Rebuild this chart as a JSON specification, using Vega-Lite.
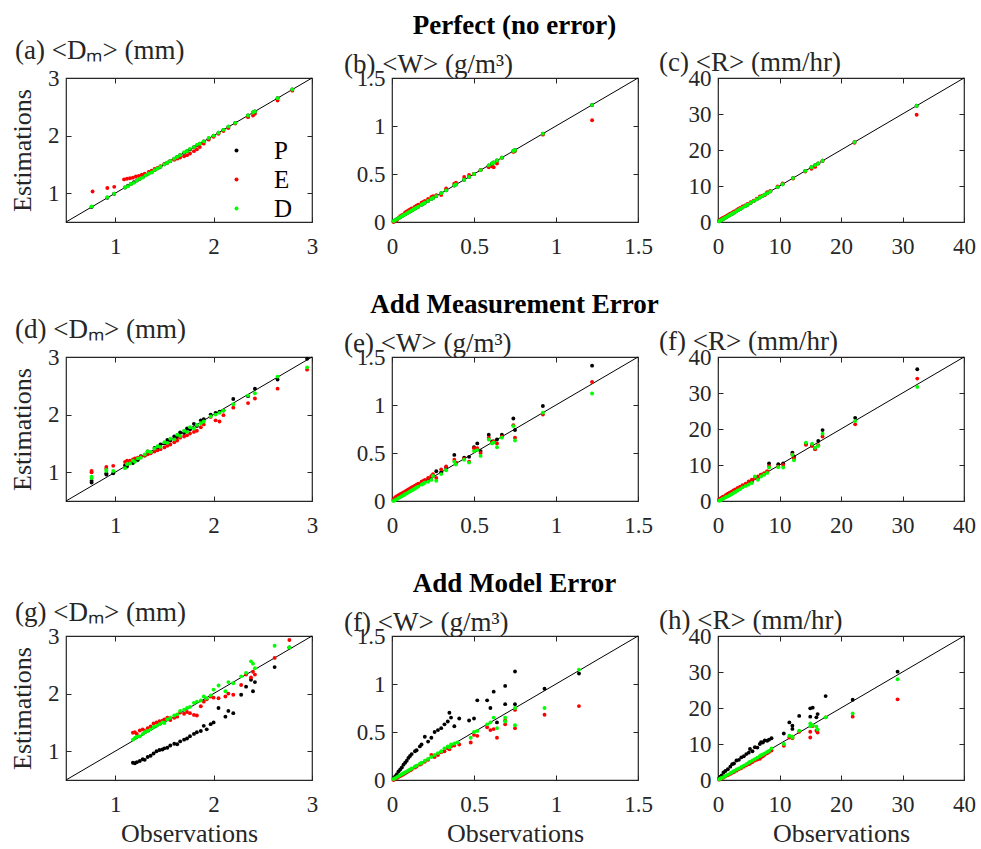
{
"$schema": "https://vega.github.io/schema/vega-lite/v6.json",
"background": "white",
"padding": {"left": 8, "top": 12, "right": 5, "bottom": 0},
"spacing": 32,
"resolve": {"scale": {"color": "independent"}},
"datasets": {
"a": [
{"s":"P","x":0.76,"y":0.76},{"s":"P","x":0.92,"y":0.92},{"s":"P","x":0.99,"y":0.99},{"s":"P","x":1.1,"y":1.1},{"s":"P","x":1.13,"y":1.13},{"s":"P","x":1.16,"y":1.16},{"s":"P","x":1.19,"y":1.19},{"s":"P","x":1.22,"y":1.22},{"s":"P","x":1.25,"y":1.25},{"s":"P","x":1.28,"y":1.28},{"s":"P","x":1.31,"y":1.31},{"s":"P","x":1.34,"y":1.34},{"s":"P","x":1.37,"y":1.37},{"s":"P","x":1.4,"y":1.4},{"s":"P","x":1.43,"y":1.43},{"s":"P","x":1.46,"y":1.46},{"s":"P","x":1.5,"y":1.5},{"s":"P","x":1.53,"y":1.53},{"s":"P","x":1.56,"y":1.56},{"s":"P","x":1.6,"y":1.6},{"s":"P","x":1.63,"y":1.63},{"s":"P","x":1.66,"y":1.66},{"s":"P","x":1.7,"y":1.7},{"s":"P","x":1.73,"y":1.73},{"s":"P","x":1.76,"y":1.76},{"s":"P","x":1.8,"y":1.8},{"s":"P","x":1.83,"y":1.83},{"s":"P","x":1.86,"y":1.86},{"s":"P","x":1.9,"y":1.9},{"s":"P","x":1.95,"y":1.95},{"s":"P","x":2.0,"y":2.0},{"s":"P","x":2.05,"y":2.05},{"s":"P","x":2.1,"y":2.1},{"s":"P","x":2.15,"y":2.15},{"s":"P","x":2.22,"y":2.22},{"s":"P","x":2.35,"y":2.35},{"s":"P","x":2.4,"y":2.4},{"s":"P","x":2.42,"y":2.42},{"s":"P","x":2.65,"y":2.65},{"s":"P","x":2.8,"y":2.8},
{"s":"E","x":0.77,"y":1.03},{"s":"E","x":0.92,"y":1.09},{"s":"E","x":0.99,"y":1.11},{"s":"E","x":1.09,"y":1.24},{"s":"E","x":1.12,"y":1.25},{"s":"E","x":1.15,"y":1.26},{"s":"E","x":1.18,"y":1.27},{"s":"E","x":1.21,"y":1.29},{"s":"E","x":1.24,"y":1.3},{"s":"E","x":1.27,"y":1.32},{"s":"E","x":1.3,"y":1.34},{"s":"E","x":1.34,"y":1.37},{"s":"E","x":1.37,"y":1.39},{"s":"E","x":1.4,"y":1.42},{"s":"E","x":1.43,"y":1.44},{"s":"E","x":1.46,"y":1.47},{"s":"E","x":1.5,"y":1.51},{"s":"E","x":1.53,"y":1.53},{"s":"E","x":1.56,"y":1.56},{"s":"E","x":1.6,"y":1.58},{"s":"E","x":1.63,"y":1.6},{"s":"E","x":1.66,"y":1.62},{"s":"E","x":1.7,"y":1.64},{"s":"E","x":1.73,"y":1.66},{"s":"E","x":1.76,"y":1.69},{"s":"E","x":1.8,"y":1.73},{"s":"E","x":1.83,"y":1.76},{"s":"E","x":1.86,"y":1.8},{"s":"E","x":1.9,"y":1.86},{"s":"E","x":1.95,"y":1.93},{"s":"E","x":2.0,"y":1.98},{"s":"E","x":2.05,"y":2.03},{"s":"E","x":2.1,"y":2.08},{"s":"E","x":2.15,"y":2.13},{"s":"E","x":2.22,"y":2.21},{"s":"E","x":2.35,"y":2.32},{"s":"E","x":2.4,"y":2.35},{"s":"E","x":2.42,"y":2.38},{"s":"E","x":2.65,"y":2.61},{"s":"E","x":2.8,"y":2.78},
{"s":"D","x":0.76,"y":0.77},{"s":"D","x":0.92,"y":0.93},{"s":"D","x":0.99,"y":0.99},{"s":"D","x":1.1,"y":1.1},{"s":"D","x":1.13,"y":1.12},{"s":"D","x":1.16,"y":1.16},{"s":"D","x":1.19,"y":1.18},{"s":"D","x":1.22,"y":1.22},{"s":"D","x":1.25,"y":1.25},{"s":"D","x":1.28,"y":1.27},{"s":"D","x":1.31,"y":1.31},{"s":"D","x":1.34,"y":1.34},{"s":"D","x":1.37,"y":1.36},{"s":"D","x":1.4,"y":1.4},{"s":"D","x":1.43,"y":1.43},{"s":"D","x":1.46,"y":1.46},{"s":"D","x":1.5,"y":1.5},{"s":"D","x":1.53,"y":1.53},{"s":"D","x":1.56,"y":1.56},{"s":"D","x":1.6,"y":1.6},{"s":"D","x":1.63,"y":1.63},{"s":"D","x":1.66,"y":1.66},{"s":"D","x":1.7,"y":1.71},{"s":"D","x":1.73,"y":1.73},{"s":"D","x":1.76,"y":1.77},{"s":"D","x":1.8,"y":1.8},{"s":"D","x":1.83,"y":1.84},{"s":"D","x":1.86,"y":1.86},{"s":"D","x":1.9,"y":1.9},{"s":"D","x":1.95,"y":1.96},{"s":"D","x":2.0,"y":2.0},{"s":"D","x":2.05,"y":2.05},{"s":"D","x":2.1,"y":2.1},{"s":"D","x":2.15,"y":2.16},{"s":"D","x":2.22,"y":2.22},{"s":"D","x":2.35,"y":2.35},{"s":"D","x":2.4,"y":2.4},{"s":"D","x":2.42,"y":2.42},{"s":"D","x":2.65,"y":2.65},{"s":"D","x":2.8,"y":2.8}
],
"b": [
{"s":"P","x":0.01,"y":0.01},{"s":"P","x":0.02,"y":0.02},{"s":"P","x":0.03,"y":0.03},{"s":"P","x":0.04,"y":0.04},{"s":"P","x":0.05,"y":0.05},{"s":"P","x":0.06,"y":0.06},{"s":"P","x":0.07,"y":0.07},{"s":"P","x":0.08,"y":0.08},{"s":"P","x":0.09,"y":0.09},{"s":"P","x":0.1,"y":0.1},{"s":"P","x":0.11,"y":0.11},{"s":"P","x":0.12,"y":0.12},{"s":"P","x":0.13,"y":0.13},{"s":"P","x":0.14,"y":0.14},{"s":"P","x":0.15,"y":0.15},{"s":"P","x":0.16,"y":0.16},{"s":"P","x":0.18,"y":0.18},{"s":"P","x":0.19,"y":0.19},{"s":"P","x":0.2,"y":0.2},{"s":"P","x":0.22,"y":0.22},{"s":"P","x":0.24,"y":0.24},{"s":"P","x":0.25,"y":0.25},{"s":"P","x":0.27,"y":0.27},{"s":"P","x":0.3,"y":0.3},{"s":"P","x":0.33,"y":0.33},{"s":"P","x":0.38,"y":0.38},{"s":"P","x":0.39,"y":0.39},{"s":"P","x":0.44,"y":0.44},{"s":"P","x":0.47,"y":0.47},{"s":"P","x":0.5,"y":0.5},{"s":"P","x":0.54,"y":0.54},{"s":"P","x":0.59,"y":0.59},{"s":"P","x":0.61,"y":0.61},{"s":"P","x":0.62,"y":0.62},{"s":"P","x":0.64,"y":0.64},{"s":"P","x":0.67,"y":0.67},{"s":"P","x":0.74,"y":0.74},{"s":"P","x":0.75,"y":0.75},{"s":"P","x":0.92,"y":0.92},{"s":"P","x":1.22,"y":1.22},
{"s":"E","x":0.01,"y":0.0},{"s":"E","x":0.02,"y":0.01},{"s":"E","x":0.03,"y":0.02},{"s":"E","x":0.04,"y":0.04},{"s":"E","x":0.05,"y":0.06},{"s":"E","x":0.06,"y":0.07},{"s":"E","x":0.07,"y":0.08},{"s":"E","x":0.08,"y":0.1},{"s":"E","x":0.09,"y":0.11},{"s":"E","x":0.1,"y":0.12},{"s":"E","x":0.11,"y":0.13},{"s":"E","x":0.12,"y":0.14},{"s":"E","x":0.13,"y":0.14},{"s":"E","x":0.14,"y":0.16},{"s":"E","x":0.15,"y":0.17},{"s":"E","x":0.16,"y":0.18},{"s":"E","x":0.18,"y":0.2},{"s":"E","x":0.19,"y":0.21},{"s":"E","x":0.2,"y":0.22},{"s":"E","x":0.22,"y":0.24},{"s":"E","x":0.24,"y":0.26},{"s":"E","x":0.25,"y":0.27},{"s":"E","x":0.27,"y":0.28},{"s":"E","x":0.3,"y":0.28},{"s":"E","x":0.33,"y":0.35},{"s":"E","x":0.38,"y":0.4},{"s":"E","x":0.39,"y":0.41},{"s":"E","x":0.44,"y":0.47},{"s":"E","x":0.47,"y":0.49},{"s":"E","x":0.5,"y":0.5},{"s":"E","x":0.54,"y":0.54},{"s":"E","x":0.59,"y":0.57},{"s":"E","x":0.61,"y":0.58},{"s":"E","x":0.62,"y":0.57},{"s":"E","x":0.64,"y":0.61},{"s":"E","x":0.67,"y":0.67},{"s":"E","x":0.74,"y":0.73},{"s":"E","x":0.75,"y":0.74},{"s":"E","x":0.92,"y":0.91},{"s":"E","x":1.22,"y":1.06},
{"s":"D","x":0.01,"y":0.01},{"s":"D","x":0.02,"y":0.02},{"s":"D","x":0.03,"y":0.03},{"s":"D","x":0.04,"y":0.04},{"s":"D","x":0.05,"y":0.05},{"s":"D","x":0.06,"y":0.06},{"s":"D","x":0.07,"y":0.07},{"s":"D","x":0.08,"y":0.08},{"s":"D","x":0.09,"y":0.09},{"s":"D","x":0.1,"y":0.1},{"s":"D","x":0.11,"y":0.11},{"s":"D","x":0.12,"y":0.12},{"s":"D","x":0.13,"y":0.13},{"s":"D","x":0.14,"y":0.14},{"s":"D","x":0.15,"y":0.15},{"s":"D","x":0.16,"y":0.16},{"s":"D","x":0.18,"y":0.18},{"s":"D","x":0.19,"y":0.19},{"s":"D","x":0.2,"y":0.2},{"s":"D","x":0.22,"y":0.22},{"s":"D","x":0.24,"y":0.24},{"s":"D","x":0.25,"y":0.25},{"s":"D","x":0.27,"y":0.27},{"s":"D","x":0.3,"y":0.3},{"s":"D","x":0.33,"y":0.33},{"s":"D","x":0.38,"y":0.38},{"s":"D","x":0.39,"y":0.39},{"s":"D","x":0.44,"y":0.44},{"s":"D","x":0.47,"y":0.47},{"s":"D","x":0.5,"y":0.5},{"s":"D","x":0.54,"y":0.54},{"s":"D","x":0.59,"y":0.59},{"s":"D","x":0.61,"y":0.61},{"s":"D","x":0.62,"y":0.62},{"s":"D","x":0.64,"y":0.64},{"s":"D","x":0.67,"y":0.67},{"s":"D","x":0.74,"y":0.74},{"s":"D","x":0.75,"y":0.75},{"s":"D","x":0.92,"y":0.92},{"s":"D","x":1.22,"y":1.22}
],
"c": [
{"s":"P","x":0.2,"y":0.2},{"s":"P","x":0.4,"y":0.4},{"s":"P","x":0.6,"y":0.6},{"s":"P","x":0.8,"y":0.8},{"s":"P","x":1.0,"y":1.0},{"s":"P","x":1.2,"y":1.2},{"s":"P","x":1.5,"y":1.5},{"s":"P","x":1.8,"y":1.8},{"s":"P","x":2.0,"y":2.0},{"s":"P","x":2.3,"y":2.3},{"s":"P","x":2.6,"y":2.6},{"s":"P","x":3.0,"y":3.0},{"s":"P","x":3.3,"y":3.3},{"s":"P","x":3.6,"y":3.6},{"s":"P","x":4.0,"y":4.0},{"s":"P","x":4.4,"y":4.4},{"s":"P","x":4.8,"y":4.8},{"s":"P","x":5.3,"y":5.3},{"s":"P","x":5.8,"y":5.8},{"s":"P","x":6.3,"y":6.3},{"s":"P","x":6.8,"y":6.8},{"s":"P","x":7.2,"y":7.2},{"s":"P","x":7.6,"y":7.6},{"s":"P","x":8.0,"y":8.0},{"s":"P","x":8.5,"y":8.5},{"s":"P","x":9.7,"y":9.7},{"s":"P","x":10.5,"y":10.5},{"s":"P","x":12.2,"y":12.2},{"s":"P","x":14.2,"y":14.2},{"s":"P","x":15.2,"y":15.2},{"s":"P","x":15.8,"y":15.8},{"s":"P","x":16.3,"y":16.3},{"s":"P","x":17.0,"y":17.0},{"s":"P","x":22.2,"y":22.2},{"s":"P","x":32.3,"y":32.3},
{"s":"E","x":0.2,"y":0.4},{"s":"E","x":0.4,"y":0.7},{"s":"E","x":0.6,"y":0.9},{"s":"E","x":0.8,"y":1.1},{"s":"E","x":1.0,"y":1.3},{"s":"E","x":1.2,"y":1.5},{"s":"E","x":1.5,"y":1.8},{"s":"E","x":1.8,"y":2.1},{"s":"E","x":2.0,"y":2.3},{"s":"E","x":2.3,"y":2.6},{"s":"E","x":2.6,"y":2.9},{"s":"E","x":3.0,"y":3.3},{"s":"E","x":3.3,"y":3.6},{"s":"E","x":3.6,"y":3.9},{"s":"E","x":4.0,"y":4.3},{"s":"E","x":4.4,"y":4.6},{"s":"E","x":4.8,"y":5.0},{"s":"E","x":5.3,"y":5.5},{"s":"E","x":5.8,"y":5.9},{"s":"E","x":6.3,"y":6.5},{"s":"E","x":6.8,"y":7.1},{"s":"E","x":7.2,"y":7.3},{"s":"E","x":7.6,"y":7.5},{"s":"E","x":8.0,"y":8.3},{"s":"E","x":8.5,"y":8.6},{"s":"E","x":9.7,"y":9.9},{"s":"E","x":10.5,"y":10.7},{"s":"E","x":12.2,"y":12.1},{"s":"E","x":14.2,"y":14.0},{"s":"E","x":15.2,"y":14.8},{"s":"E","x":15.8,"y":15.3},{"s":"E","x":16.3,"y":16.2},{"s":"E","x":17.0,"y":17.0},{"s":"E","x":22.2,"y":22.0},{"s":"E","x":32.3,"y":29.8},
{"s":"D","x":0.2,"y":0.2},{"s":"D","x":0.4,"y":0.4},{"s":"D","x":0.6,"y":0.6},{"s":"D","x":0.8,"y":0.8},{"s":"D","x":1.0,"y":1.0},{"s":"D","x":1.2,"y":1.2},{"s":"D","x":1.5,"y":1.5},{"s":"D","x":1.8,"y":1.8},{"s":"D","x":2.0,"y":2.0},{"s":"D","x":2.3,"y":2.3},{"s":"D","x":2.6,"y":2.6},{"s":"D","x":3.0,"y":3.0},{"s":"D","x":3.3,"y":3.3},{"s":"D","x":3.6,"y":3.6},{"s":"D","x":4.0,"y":4.0},{"s":"D","x":4.4,"y":4.4},{"s":"D","x":4.8,"y":4.8},{"s":"D","x":5.3,"y":5.3},{"s":"D","x":5.8,"y":5.8},{"s":"D","x":6.3,"y":6.3},{"s":"D","x":6.8,"y":6.8},{"s":"D","x":7.2,"y":7.2},{"s":"D","x":7.6,"y":7.6},{"s":"D","x":8.0,"y":8.0},{"s":"D","x":8.5,"y":8.5},{"s":"D","x":9.7,"y":9.7},{"s":"D","x":10.5,"y":10.5},{"s":"D","x":12.2,"y":12.2},{"s":"D","x":14.2,"y":14.2},{"s":"D","x":15.2,"y":15.2},{"s":"D","x":15.8,"y":15.8},{"s":"D","x":16.3,"y":16.3},{"s":"D","x":17.0,"y":17.0},{"s":"D","x":22.2,"y":22.2},{"s":"D","x":32.3,"y":32.3}
],
"d": [
{"s":"P","x":0.76,"y":0.82},{"s":"P","x":0.76,"y":0.85},{"s":"P","x":0.91,"y":0.96},{"s":"P","x":0.91,"y":0.98},{"s":"P","x":0.98,"y":0.98},{"s":"P","x":1.1,"y":1.12},{"s":"P","x":1.12,"y":1.1},{"s":"P","x":1.15,"y":1.17},{"s":"P","x":1.18,"y":1.16},{"s":"P","x":1.2,"y":1.22},{"s":"P","x":1.23,"y":1.21},{"s":"P","x":1.26,"y":1.28},{"s":"P","x":1.3,"y":1.29},{"s":"P","x":1.33,"y":1.36},{"s":"P","x":1.36,"y":1.34},{"s":"P","x":1.4,"y":1.42},{"s":"P","x":1.43,"y":1.41},{"s":"P","x":1.46,"y":1.48},{"s":"P","x":1.5,"y":1.5},{"s":"P","x":1.53,"y":1.56},{"s":"P","x":1.56,"y":1.55},{"s":"P","x":1.6,"y":1.62},{"s":"P","x":1.63,"y":1.61},{"s":"P","x":1.66,"y":1.69},{"s":"P","x":1.7,"y":1.68},{"s":"P","x":1.73,"y":1.76},{"s":"P","x":1.76,"y":1.74},{"s":"P","x":1.8,"y":1.84},{"s":"P","x":1.83,"y":1.8},{"s":"P","x":1.87,"y":1.9},{"s":"P","x":1.9,"y":1.92},{"s":"P","x":1.97,"y":2.0},{"s":"P","x":2.02,"y":2.03},{"s":"P","x":2.06,"y":2.05},{"s":"P","x":2.1,"y":2.07},{"s":"P","x":2.2,"y":2.27},{"s":"P","x":2.35,"y":2.32},{"s":"P","x":2.42,"y":2.45},{"s":"P","x":2.65,"y":2.61},{"s":"P","x":2.95,"y":2.97},
{"s":"E","x":0.76,"y":1.0},{"s":"E","x":0.76,"y":1.02},{"s":"E","x":0.91,"y":1.06},{"s":"E","x":0.91,"y":1.09},{"s":"E","x":0.98,"y":1.11},{"s":"E","x":1.1,"y":1.18},{"s":"E","x":1.12,"y":1.2},{"s":"E","x":1.15,"y":1.2},{"s":"E","x":1.18,"y":1.22},{"s":"E","x":1.2,"y":1.24},{"s":"E","x":1.23,"y":1.25},{"s":"E","x":1.26,"y":1.27},{"s":"E","x":1.3,"y":1.29},{"s":"E","x":1.33,"y":1.31},{"s":"E","x":1.36,"y":1.33},{"s":"E","x":1.4,"y":1.36},{"s":"E","x":1.43,"y":1.38},{"s":"E","x":1.46,"y":1.4},{"s":"E","x":1.5,"y":1.43},{"s":"E","x":1.53,"y":1.46},{"s":"E","x":1.56,"y":1.48},{"s":"E","x":1.6,"y":1.52},{"s":"E","x":1.63,"y":1.55},{"s":"E","x":1.66,"y":1.6},{"s":"E","x":1.7,"y":1.62},{"s":"E","x":1.73,"y":1.64},{"s":"E","x":1.76,"y":1.67},{"s":"E","x":1.8,"y":1.7},{"s":"E","x":1.83,"y":1.72},{"s":"E","x":1.87,"y":1.78},{"s":"E","x":1.9,"y":1.83},{"s":"E","x":1.97,"y":1.96},{"s":"E","x":2.02,"y":1.9},{"s":"E","x":2.06,"y":1.88},{"s":"E","x":2.1,"y":1.99},{"s":"E","x":2.2,"y":2.12},{"s":"E","x":2.35,"y":2.2},{"s":"E","x":2.42,"y":2.28},{"s":"E","x":2.65,"y":2.45},{"s":"E","x":2.95,"y":2.78},
{"s":"D","x":0.76,"y":0.9},{"s":"D","x":0.76,"y":0.92},{"s":"D","x":0.91,"y":1.02},{"s":"D","x":0.91,"y":1.04},{"s":"D","x":0.98,"y":1.02},{"s":"D","x":1.1,"y":1.07},{"s":"D","x":1.12,"y":1.14},{"s":"D","x":1.15,"y":1.15},{"s":"D","x":1.18,"y":1.2},{"s":"D","x":1.2,"y":1.18},{"s":"D","x":1.23,"y":1.24},{"s":"D","x":1.26,"y":1.25},{"s":"D","x":1.3,"y":1.31},{"s":"D","x":1.33,"y":1.36},{"s":"D","x":1.36,"y":1.35},{"s":"D","x":1.4,"y":1.41},{"s":"D","x":1.43,"y":1.45},{"s":"D","x":1.46,"y":1.44},{"s":"D","x":1.5,"y":1.52},{"s":"D","x":1.53,"y":1.51},{"s":"D","x":1.56,"y":1.58},{"s":"D","x":1.6,"y":1.57},{"s":"D","x":1.63,"y":1.65},{"s":"D","x":1.66,"y":1.63},{"s":"D","x":1.7,"y":1.72},{"s":"D","x":1.73,"y":1.7},{"s":"D","x":1.76,"y":1.78},{"s":"D","x":1.8,"y":1.76},{"s":"D","x":1.83,"y":1.82},{"s":"D","x":1.87,"y":1.85},{"s":"D","x":1.9,"y":1.88},{"s":"D","x":1.97,"y":1.97},{"s":"D","x":2.02,"y":2.0},{"s":"D","x":2.06,"y":2.03},{"s":"D","x":2.1,"y":2.07},{"s":"D","x":2.2,"y":2.18},{"s":"D","x":2.35,"y":2.33},{"s":"D","x":2.42,"y":2.37},{"s":"D","x":2.65,"y":2.66},{"s":"D","x":2.95,"y":2.82}
],
"e": [
{"s":"P","x":0.01,"y":0.01},{"s":"P","x":0.02,"y":0.02},{"s":"P","x":0.03,"y":0.03},{"s":"P","x":0.04,"y":0.05},{"s":"P","x":0.05,"y":0.05},{"s":"P","x":0.06,"y":0.06},{"s":"P","x":0.07,"y":0.08},{"s":"P","x":0.08,"y":0.08},{"s":"P","x":0.09,"y":0.1},{"s":"P","x":0.1,"y":0.1},{"s":"P","x":0.11,"y":0.11},{"s":"P","x":0.12,"y":0.13},{"s":"P","x":0.13,"y":0.13},{"s":"P","x":0.14,"y":0.14},{"s":"P","x":0.15,"y":0.16},{"s":"P","x":0.16,"y":0.16},{"s":"P","x":0.18,"y":0.19},{"s":"P","x":0.19,"y":0.19},{"s":"P","x":0.2,"y":0.21},{"s":"P","x":0.22,"y":0.22},{"s":"P","x":0.24,"y":0.25},{"s":"P","x":0.25,"y":0.26},{"s":"P","x":0.27,"y":0.31},{"s":"P","x":0.3,"y":0.3},{"s":"P","x":0.33,"y":0.35},{"s":"P","x":0.38,"y":0.48},{"s":"P","x":0.39,"y":0.4},{"s":"P","x":0.44,"y":0.45},{"s":"P","x":0.47,"y":0.46},{"s":"P","x":0.5,"y":0.56},{"s":"P","x":0.52,"y":0.6},{"s":"P","x":0.54,"y":0.52},{"s":"P","x":0.59,"y":0.69},{"s":"P","x":0.61,"y":0.62},{"s":"P","x":0.62,"y":0.62},{"s":"P","x":0.64,"y":0.64},{"s":"P","x":0.67,"y":0.69},{"s":"P","x":0.74,"y":0.86},{"s":"P","x":0.75,"y":0.74},{"s":"P","x":0.92,"y":0.99},{"s":"P","x":1.22,"y":1.41},
{"s":"E","x":0.01,"y":0.02},{"s":"E","x":0.02,"y":0.04},{"s":"E","x":0.03,"y":0.05},{"s":"E","x":0.04,"y":0.06},{"s":"E","x":0.05,"y":0.07},{"s":"E","x":0.06,"y":0.08},{"s":"E","x":0.07,"y":0.09},{"s":"E","x":0.08,"y":0.1},{"s":"E","x":0.09,"y":0.11},{"s":"E","x":0.1,"y":0.12},{"s":"E","x":0.11,"y":0.13},{"s":"E","x":0.12,"y":0.14},{"s":"E","x":0.13,"y":0.15},{"s":"E","x":0.14,"y":0.16},{"s":"E","x":0.15,"y":0.17},{"s":"E","x":0.16,"y":0.18},{"s":"E","x":0.18,"y":0.2},{"s":"E","x":0.19,"y":0.21},{"s":"E","x":0.2,"y":0.22},{"s":"E","x":0.22,"y":0.24},{"s":"E","x":0.24,"y":0.26},{"s":"E","x":0.25,"y":0.28},{"s":"E","x":0.27,"y":0.24},{"s":"E","x":0.3,"y":0.33},{"s":"E","x":0.33,"y":0.36},{"s":"E","x":0.38,"y":0.43},{"s":"E","x":0.39,"y":0.4},{"s":"E","x":0.44,"y":0.44},{"s":"E","x":0.47,"y":0.41},{"s":"E","x":0.5,"y":0.55},{"s":"E","x":0.52,"y":0.55},{"s":"E","x":0.54,"y":0.5},{"s":"E","x":0.59,"y":0.66},{"s":"E","x":0.61,"y":0.61},{"s":"E","x":0.62,"y":0.62},{"s":"E","x":0.64,"y":0.6},{"s":"E","x":0.67,"y":0.67},{"s":"E","x":0.74,"y":0.79},{"s":"E","x":0.75,"y":0.66},{"s":"E","x":0.92,"y":0.9},{"s":"E","x":1.22,"y":1.24},
{"s":"D","x":0.01,"y":0.0},{"s":"D","x":0.02,"y":0.01},{"s":"D","x":0.03,"y":0.02},{"s":"D","x":0.04,"y":0.03},{"s":"D","x":0.05,"y":0.04},{"s":"D","x":0.06,"y":0.05},{"s":"D","x":0.07,"y":0.06},{"s":"D","x":0.08,"y":0.07},{"s":"D","x":0.09,"y":0.08},{"s":"D","x":0.1,"y":0.09},{"s":"D","x":0.11,"y":0.1},{"s":"D","x":0.12,"y":0.11},{"s":"D","x":0.13,"y":0.12},{"s":"D","x":0.14,"y":0.13},{"s":"D","x":0.15,"y":0.14},{"s":"D","x":0.16,"y":0.15},{"s":"D","x":0.18,"y":0.17},{"s":"D","x":0.19,"y":0.18},{"s":"D","x":0.2,"y":0.19},{"s":"D","x":0.22,"y":0.2},{"s":"D","x":0.24,"y":0.22},{"s":"D","x":0.25,"y":0.26},{"s":"D","x":0.27,"y":0.21},{"s":"D","x":0.3,"y":0.28},{"s":"D","x":0.33,"y":0.32},{"s":"D","x":0.38,"y":0.41},{"s":"D","x":0.39,"y":0.38},{"s":"D","x":0.44,"y":0.43},{"s":"D","x":0.47,"y":0.4},{"s":"D","x":0.5,"y":0.52},{"s":"D","x":0.52,"y":0.53},{"s":"D","x":0.54,"y":0.47},{"s":"D","x":0.59,"y":0.64},{"s":"D","x":0.61,"y":0.6},{"s":"D","x":0.62,"y":0.61},{"s":"D","x":0.64,"y":0.56},{"s":"D","x":0.67,"y":0.66},{"s":"D","x":0.74,"y":0.78},{"s":"D","x":0.75,"y":0.63},{"s":"D","x":0.92,"y":0.92},{"s":"D","x":1.22,"y":1.12}
],
"f": [
{"s":"P","x":0.2,"y":0.2},{"s":"P","x":0.4,"y":0.5},{"s":"P","x":0.6,"y":0.6},{"s":"P","x":0.8,"y":0.9},{"s":"P","x":1.0,"y":1.0},{"s":"P","x":1.3,"y":1.4},{"s":"P","x":1.6,"y":1.6},{"s":"P","x":1.9,"y":2.0},{"s":"P","x":2.2,"y":2.2},{"s":"P","x":2.5,"y":2.6},{"s":"P","x":2.8,"y":2.8},{"s":"P","x":3.2,"y":3.3},{"s":"P","x":3.6,"y":3.6},{"s":"P","x":4.0,"y":4.2},{"s":"P","x":4.5,"y":4.5},{"s":"P","x":5.0,"y":5.2},{"s":"P","x":5.5,"y":5.4},{"s":"P","x":6.0,"y":6.3},{"s":"P","x":6.5,"y":6.4},{"s":"P","x":7.0,"y":7.3},{"s":"P","x":7.5,"y":7.5},{"s":"P","x":8.0,"y":8.1},{"s":"P","x":8.3,"y":10.4},{"s":"P","x":9.8,"y":10.2},{"s":"P","x":10.6,"y":10.4},{"s":"P","x":12.1,"y":13.4},{"s":"P","x":12.35,"y":12.3},{"s":"P","x":14.3,"y":15.8},{"s":"P","x":15.3,"y":15.4},{"s":"P","x":15.8,"y":14.5},{"s":"P","x":16.3,"y":16.7},{"s":"P","x":17.0,"y":19.7},{"s":"P","x":22.3,"y":23.1},{"s":"P","x":32.4,"y":36.6},
{"s":"E","x":0.2,"y":0.4},{"s":"E","x":0.4,"y":0.7},{"s":"E","x":0.6,"y":0.9},{"s":"E","x":0.8,"y":1.2},{"s":"E","x":1.0,"y":1.3},{"s":"E","x":1.3,"y":1.7},{"s":"E","x":1.6,"y":2.0},{"s":"E","x":1.9,"y":2.3},{"s":"E","x":2.2,"y":2.6},{"s":"E","x":2.5,"y":2.9},{"s":"E","x":2.8,"y":3.2},{"s":"E","x":3.2,"y":3.6},{"s":"E","x":3.6,"y":4.0},{"s":"E","x":4.0,"y":4.4},{"s":"E","x":4.5,"y":4.8},{"s":"E","x":5.0,"y":5.4},{"s":"E","x":5.5,"y":5.9},{"s":"E","x":6.0,"y":6.3},{"s":"E","x":6.5,"y":6.8},{"s":"E","x":7.0,"y":7.3},{"s":"E","x":7.5,"y":7.7},{"s":"E","x":8.0,"y":8.3},{"s":"E","x":8.3,"y":9.7},{"s":"E","x":9.8,"y":9.6},{"s":"E","x":10.6,"y":10.0},{"s":"E","x":12.1,"y":12.9},{"s":"E","x":12.35,"y":11.8},{"s":"E","x":14.3,"y":15.6},{"s":"E","x":15.3,"y":15.3},{"s":"E","x":15.8,"y":14.4},{"s":"E","x":16.3,"y":15.5},{"s":"E","x":17.0,"y":17.9},{"s":"E","x":22.3,"y":21.3},{"s":"E","x":32.4,"y":34.0},
{"s":"D","x":0.2,"y":0.1},{"s":"D","x":0.4,"y":0.2},{"s":"D","x":0.6,"y":0.4},{"s":"D","x":0.8,"y":0.6},{"s":"D","x":1.0,"y":0.8},{"s":"D","x":1.3,"y":1.1},{"s":"D","x":1.6,"y":1.3},{"s":"D","x":1.9,"y":1.6},{"s":"D","x":2.2,"y":1.9},{"s":"D","x":2.5,"y":2.2},{"s":"D","x":2.8,"y":2.5},{"s":"D","x":3.2,"y":2.9},{"s":"D","x":3.6,"y":3.3},{"s":"D","x":4.0,"y":3.8},{"s":"D","x":4.5,"y":4.2},{"s":"D","x":5.0,"y":4.6},{"s":"D","x":5.5,"y":5.0},{"s":"D","x":6.0,"y":6.8},{"s":"D","x":6.5,"y":5.9},{"s":"D","x":7.0,"y":6.8},{"s":"D","x":7.5,"y":7.3},{"s":"D","x":8.0,"y":7.8},{"s":"D","x":8.3,"y":9.3},{"s":"D","x":9.8,"y":9.4},{"s":"D","x":10.6,"y":9.3},{"s":"D","x":12.1,"y":12.8},{"s":"D","x":12.35,"y":11.3},{"s":"D","x":14.3,"y":16.2},{"s":"D","x":15.3,"y":15.9},{"s":"D","x":15.8,"y":14.8},{"s":"D","x":16.3,"y":15.3},{"s":"D","x":17.0,"y":18.7},{"s":"D","x":22.3,"y":22.2},{"s":"D","x":32.4,"y":31.7}
],
"g": [
{"s":"P","x":1.18,"y":0.8},{"s":"P","x":1.2,"y":0.79},{"s":"P","x":1.22,"y":0.81},{"s":"P","x":1.25,"y":0.83},{"s":"P","x":1.28,"y":0.86},{"s":"P","x":1.3,"y":0.85},{"s":"P","x":1.33,"y":0.9},{"s":"P","x":1.36,"y":0.92},{"s":"P","x":1.39,"y":0.96},{"s":"P","x":1.42,"y":1.0},{"s":"P","x":1.45,"y":1.02},{"s":"P","x":1.48,"y":1.03},{"s":"P","x":1.5,"y":1.05},{"s":"P","x":1.53,"y":1.06},{"s":"P","x":1.56,"y":1.1},{"s":"P","x":1.6,"y":1.13},{"s":"P","x":1.63,"y":1.12},{"s":"P","x":1.66,"y":1.17},{"s":"P","x":1.7,"y":1.2},{"s":"P","x":1.73,"y":1.22},{"s":"P","x":1.76,"y":1.26},{"s":"P","x":1.8,"y":1.3},{"s":"P","x":1.83,"y":1.33},{"s":"P","x":1.87,"y":1.35},{"s":"P","x":1.9,"y":1.44},{"s":"P","x":1.93,"y":1.38},{"s":"P","x":1.97,"y":1.47},{"s":"P","x":2.0,"y":1.5},{"s":"P","x":2.05,"y":1.75},{"s":"P","x":2.12,"y":1.6},{"s":"P","x":2.15,"y":1.7},{"s":"P","x":2.2,"y":1.66},{"s":"P","x":2.28,"y":1.98},{"s":"P","x":2.33,"y":2.12},{"s":"P","x":2.38,"y":2.24},{"s":"P","x":2.4,"y":2.04},{"s":"P","x":2.42,"y":2.2},{"s":"P","x":2.62,"y":2.46},{"s":"P","x":2.77,"y":2.8},
{"s":"E","x":1.18,"y":1.32},{"s":"E","x":1.2,"y":1.33},{"s":"E","x":1.22,"y":1.3},{"s":"E","x":1.25,"y":1.36},{"s":"E","x":1.28,"y":1.38},{"s":"E","x":1.3,"y":1.35},{"s":"E","x":1.33,"y":1.4},{"s":"E","x":1.36,"y":1.43},{"s":"E","x":1.39,"y":1.48},{"s":"E","x":1.42,"y":1.5},{"s":"E","x":1.45,"y":1.52},{"s":"E","x":1.48,"y":1.53},{"s":"E","x":1.5,"y":1.55},{"s":"E","x":1.53,"y":1.58},{"s":"E","x":1.56,"y":1.54},{"s":"E","x":1.6,"y":1.58},{"s":"E","x":1.63,"y":1.6},{"s":"E","x":1.66,"y":1.67},{"s":"E","x":1.7,"y":1.65},{"s":"E","x":1.73,"y":1.68},{"s":"E","x":1.76,"y":1.66},{"s":"E","x":1.8,"y":1.63},{"s":"E","x":1.83,"y":1.62},{"s":"E","x":1.87,"y":1.78},{"s":"E","x":1.9,"y":1.86},{"s":"E","x":1.93,"y":1.9},{"s":"E","x":1.97,"y":1.95},{"s":"E","x":2.0,"y":1.93},{"s":"E","x":2.05,"y":1.92},{"s":"E","x":2.12,"y":1.95},{"s":"E","x":2.15,"y":2.0},{"s":"E","x":2.2,"y":1.98},{"s":"E","x":2.28,"y":2.15},{"s":"E","x":2.33,"y":2.33},{"s":"E","x":2.38,"y":2.28},{"s":"E","x":2.4,"y":2.38},{"s":"E","x":2.42,"y":2.33},{"s":"E","x":2.62,"y":2.62},{"s":"E","x":2.77,"y":2.93},
{"s":"D","x":1.18,"y":1.2},{"s":"D","x":1.2,"y":1.23},{"s":"D","x":1.22,"y":1.25},{"s":"D","x":1.25,"y":1.26},{"s":"D","x":1.28,"y":1.3},{"s":"D","x":1.3,"y":1.33},{"s":"D","x":1.33,"y":1.35},{"s":"D","x":1.36,"y":1.38},{"s":"D","x":1.39,"y":1.42},{"s":"D","x":1.42,"y":1.44},{"s":"D","x":1.45,"y":1.47},{"s":"D","x":1.48,"y":1.5},{"s":"D","x":1.5,"y":1.49},{"s":"D","x":1.53,"y":1.55},{"s":"D","x":1.56,"y":1.58},{"s":"D","x":1.6,"y":1.62},{"s":"D","x":1.63,"y":1.64},{"s":"D","x":1.66,"y":1.7},{"s":"D","x":1.7,"y":1.72},{"s":"D","x":1.73,"y":1.75},{"s":"D","x":1.76,"y":1.77},{"s":"D","x":1.8,"y":1.84},{"s":"D","x":1.83,"y":1.86},{"s":"D","x":1.87,"y":1.88},{"s":"D","x":1.9,"y":1.95},{"s":"D","x":1.93,"y":1.92},{"s":"D","x":1.97,"y":1.97},{"s":"D","x":2.0,"y":2.07},{"s":"D","x":2.05,"y":2.14},{"s":"D","x":2.12,"y":2.04},{"s":"D","x":2.15,"y":2.2},{"s":"D","x":2.2,"y":2.18},{"s":"D","x":2.28,"y":2.3},{"s":"D","x":2.33,"y":2.36},{"s":"D","x":2.38,"y":2.56},{"s":"D","x":2.4,"y":2.52},{"s":"D","x":2.42,"y":2.44},{"s":"D","x":2.62,"y":2.83},{"s":"D","x":2.77,"y":2.8}
],
"h": [
{"s":"P","x":0.01,"y":0.02},{"s":"P","x":0.02,"y":0.04},{"s":"P","x":0.03,"y":0.06},{"s":"P","x":0.04,"y":0.09},{"s":"P","x":0.05,"y":0.11},{"s":"P","x":0.06,"y":0.13},{"s":"P","x":0.07,"y":0.16},{"s":"P","x":0.08,"y":0.18},{"s":"P","x":0.09,"y":0.2},{"s":"P","x":0.1,"y":0.23},{"s":"P","x":0.11,"y":0.25},{"s":"P","x":0.12,"y":0.27},{"s":"P","x":0.14,"y":0.3},{"s":"P","x":0.15,"y":0.31},{"s":"P","x":0.17,"y":0.35},{"s":"P","x":0.18,"y":0.37},{"s":"P","x":0.2,"y":0.45},{"s":"P","x":0.22,"y":0.4},{"s":"P","x":0.24,"y":0.44},{"s":"P","x":0.26,"y":0.5},{"s":"P","x":0.28,"y":0.52},{"s":"P","x":0.3,"y":0.54},{"s":"P","x":0.32,"y":0.58},{"s":"P","x":0.34,"y":0.61},{"s":"P","x":0.35,"y":0.7},{"s":"P","x":0.36,"y":0.65},{"s":"P","x":0.38,"y":0.56},{"s":"P","x":0.41,"y":0.64},{"s":"P","x":0.47,"y":0.62},{"s":"P","x":0.5,"y":0.64},{"s":"P","x":0.52,"y":0.83},{"s":"P","x":0.58,"y":0.83},{"s":"P","x":0.6,"y":0.75},{"s":"P","x":0.62,"y":0.92},{"s":"P","x":0.64,"y":0.6},{"s":"P","x":0.69,"y":0.98},{"s":"P","x":0.69,"y":0.79},{"s":"P","x":0.75,"y":1.13},{"s":"P","x":0.75,"y":0.79},{"s":"P","x":0.93,"y":0.95},{"s":"P","x":1.14,"y":1.11},
{"s":"E","x":0.01,"y":0.0},{"s":"E","x":0.02,"y":0.01},{"s":"E","x":0.03,"y":0.02},{"s":"E","x":0.04,"y":0.03},{"s":"E","x":0.05,"y":0.04},{"s":"E","x":0.06,"y":0.05},{"s":"E","x":0.07,"y":0.06},{"s":"E","x":0.08,"y":0.07},{"s":"E","x":0.09,"y":0.08},{"s":"E","x":0.1,"y":0.09},{"s":"E","x":0.11,"y":0.1},{"s":"E","x":0.12,"y":0.11},{"s":"E","x":0.14,"y":0.13},{"s":"E","x":0.15,"y":0.14},{"s":"E","x":0.17,"y":0.16},{"s":"E","x":0.18,"y":0.17},{"s":"E","x":0.2,"y":0.19},{"s":"E","x":0.22,"y":0.21},{"s":"E","x":0.24,"y":0.26},{"s":"E","x":0.26,"y":0.24},{"s":"E","x":0.28,"y":0.26},{"s":"E","x":0.3,"y":0.29},{"s":"E","x":0.32,"y":0.3},{"s":"E","x":0.34,"y":0.33},{"s":"E","x":0.35,"y":0.32},{"s":"E","x":0.36,"y":0.35},{"s":"E","x":0.38,"y":0.36},{"s":"E","x":0.41,"y":0.37},{"s":"E","x":0.48,"y":0.39},{"s":"E","x":0.5,"y":0.47},{"s":"E","x":0.52,"y":0.46},{"s":"E","x":0.58,"y":0.55},{"s":"E","x":0.6,"y":0.52},{"s":"E","x":0.62,"y":0.53},{"s":"E","x":0.64,"y":0.44},{"s":"E","x":0.69,"y":0.58},{"s":"E","x":0.69,"y":0.62},{"s":"E","x":0.75,"y":0.73},{"s":"E","x":0.75,"y":0.54},{"s":"E","x":0.93,"y":0.68},{"s":"E","x":1.14,"y":0.77},
{"s":"D","x":0.01,"y":0.01},{"s":"D","x":0.02,"y":0.02},{"s":"D","x":0.03,"y":0.03},{"s":"D","x":0.04,"y":0.04},{"s":"D","x":0.05,"y":0.05},{"s":"D","x":0.06,"y":0.06},{"s":"D","x":0.07,"y":0.07},{"s":"D","x":0.08,"y":0.08},{"s":"D","x":0.09,"y":0.09},{"s":"D","x":0.1,"y":0.1},{"s":"D","x":0.11,"y":0.11},{"s":"D","x":0.12,"y":0.12},{"s":"D","x":0.14,"y":0.14},{"s":"D","x":0.15,"y":0.15},{"s":"D","x":0.17,"y":0.17},{"s":"D","x":0.18,"y":0.18},{"s":"D","x":0.2,"y":0.2},{"s":"D","x":0.22,"y":0.22},{"s":"D","x":0.24,"y":0.24},{"s":"D","x":0.26,"y":0.26},{"s":"D","x":0.28,"y":0.28},{"s":"D","x":0.3,"y":0.3},{"s":"D","x":0.32,"y":0.33},{"s":"D","x":0.34,"y":0.35},{"s":"D","x":0.35,"y":0.34},{"s":"D","x":0.36,"y":0.37},{"s":"D","x":0.38,"y":0.38},{"s":"D","x":0.4,"y":0.39},{"s":"D","x":0.48,"y":0.44},{"s":"D","x":0.5,"y":0.5},{"s":"D","x":0.52,"y":0.51},{"s":"D","x":0.58,"y":0.58},{"s":"D","x":0.6,"y":0.6},{"s":"D","x":0.62,"y":0.65},{"s":"D","x":0.64,"y":0.54},{"s":"D","x":0.69,"y":0.65},{"s":"D","x":0.69,"y":0.61},{"s":"D","x":0.75,"y":0.75},{"s":"D","x":0.75,"y":0.57},{"s":"D","x":0.93,"y":0.75},{"s":"D","x":1.14,"y":1.15}
],
"i": [
{"s":"P","x":0.2,"y":0.5},{"s":"P","x":0.4,"y":0.9},{"s":"P","x":0.6,"y":1.3},{"s":"P","x":0.9,"y":2.1},{"s":"P","x":1.2,"y":2.5},{"s":"P","x":1.6,"y":3.0},{"s":"P","x":2.0,"y":3.7},{"s":"P","x":2.3,"y":4.4},{"s":"P","x":2.6,"y":4.6},{"s":"P","x":3.0,"y":5.4},{"s":"P","x":3.4,"y":5.6},{"s":"P","x":3.8,"y":6.3},{"s":"P","x":4.2,"y":6.6},{"s":"P","x":4.6,"y":7.2},{"s":"P","x":5.0,"y":7.6},{"s":"P","x":5.2,"y":8.6},{"s":"P","x":5.6,"y":8.0},{"s":"P","x":6.0,"y":9.1},{"s":"P","x":6.4,"y":9.0},{"s":"P","x":6.8,"y":10.0},{"s":"P","x":7.0,"y":10.5},{"s":"P","x":7.3,"y":10.4},{"s":"P","x":7.6,"y":11.0},{"s":"P","x":8.0,"y":10.9},{"s":"P","x":8.3,"y":11.2},{"s":"P","x":8.7,"y":11.6},{"s":"P","x":10.7,"y":12.9},{"s":"P","x":11.6,"y":16.0},{"s":"P","x":12.1,"y":15.1},{"s":"P","x":12.1,"y":14.2},{"s":"P","x":13.2,"y":17.8},{"s":"P","x":15.0,"y":19.9},{"s":"P","x":15.0,"y":17.6},{"s":"P","x":15.4,"y":20.1},{"s":"P","x":16.0,"y":17.4},{"s":"P","x":16.2,"y":18.3},{"s":"P","x":17.5,"y":23.3},{"s":"P","x":21.9,"y":22.3},{"s":"P","x":29.2,"y":30.1},
{"s":"E","x":0.2,"y":0.1},{"s":"E","x":0.4,"y":0.3},{"s":"E","x":0.6,"y":0.5},{"s":"E","x":0.9,"y":0.7},{"s":"E","x":1.2,"y":1.0},{"s":"E","x":1.6,"y":1.3},{"s":"E","x":2.0,"y":1.7},{"s":"E","x":2.3,"y":2.0},{"s":"E","x":2.6,"y":2.2},{"s":"E","x":3.0,"y":2.6},{"s":"E","x":3.4,"y":3.0},{"s":"E","x":3.8,"y":3.3},{"s":"E","x":4.2,"y":3.7},{"s":"E","x":4.6,"y":4.1},{"s":"E","x":5.0,"y":4.4},{"s":"E","x":5.2,"y":4.6},{"s":"E","x":5.6,"y":5.0},{"s":"E","x":6.0,"y":5.4},{"s":"E","x":6.4,"y":5.7},{"s":"E","x":6.8,"y":5.9},{"s":"E","x":7.0,"y":6.3},{"s":"E","x":7.3,"y":6.6},{"s":"E","x":7.6,"y":7.0},{"s":"E","x":8.0,"y":7.4},{"s":"E","x":8.3,"y":7.8},{"s":"E","x":8.7,"y":8.2},{"s":"E","x":10.7,"y":9.5},{"s":"E","x":11.6,"y":11.8},{"s":"E","x":12.1,"y":11.6},{"s":"E","x":12.1,"y":12.0},{"s":"E","x":13.2,"y":13.4},{"s":"E","x":15.0,"y":11.8},{"s":"E","x":15.0,"y":13.4},{"s":"E","x":15.4,"y":15.0},{"s":"E","x":16.0,"y":13.7},{"s":"E","x":16.2,"y":13.2},{"s":"E","x":17.5,"y":17.4},{"s":"E","x":21.9,"y":17.6},{"s":"E","x":29.2,"y":22.4},
{"s":"D","x":0.2,"y":0.2},{"s":"D","x":0.4,"y":0.4},{"s":"D","x":0.6,"y":0.6},{"s":"D","x":0.9,"y":0.8},{"s":"D","x":1.2,"y":1.1},{"s":"D","x":1.6,"y":1.5},{"s":"D","x":2.0,"y":1.9},{"s":"D","x":2.3,"y":2.2},{"s":"D","x":2.6,"y":2.5},{"s":"D","x":3.0,"y":2.9},{"s":"D","x":3.4,"y":3.2},{"s":"D","x":3.8,"y":3.6},{"s":"D","x":4.2,"y":4.0},{"s":"D","x":4.6,"y":4.4},{"s":"D","x":5.0,"y":4.8},{"s":"D","x":5.2,"y":5.1},{"s":"D","x":5.6,"y":5.4},{"s":"D","x":6.0,"y":5.8},{"s":"D","x":6.4,"y":6.2},{"s":"D","x":6.8,"y":6.6},{"s":"D","x":7.0,"y":6.9},{"s":"D","x":7.3,"y":7.1},{"s":"D","x":7.6,"y":7.4},{"s":"D","x":8.0,"y":7.8},{"s":"D","x":8.3,"y":8.1},{"s":"D","x":8.7,"y":8.8},{"s":"D","x":10.7,"y":10.0},{"s":"D","x":11.6,"y":12.3},{"s":"D","x":12.1,"y":11.8},{"s":"D","x":12.1,"y":12.0},{"s":"D","x":13.2,"y":13.7},{"s":"D","x":15.0,"y":15.7},{"s":"D","x":15.0,"y":14.9},{"s":"D","x":15.4,"y":15.2},{"s":"D","x":16.0,"y":14.8},{"s":"D","x":16.2,"y":14.0},{"s":"D","x":17.5,"y":17.4},{"s":"D","x":21.9,"y":18.5},{"s":"D","x":29.2,"y":28.0}
]
},
"vconcat": [
{"title": {"text": "Perfect (no error)", "anchor": "middle", "dx": 22, "fontWeight": "bold", "fontSize": 27, "color": "#000000", "offset": -4},
 "spacing": 80, "bounds": "flush", "resolve": {"scale": {"color": "independent"}},
 "hconcat": [
 {"width": 246, "height": 144,
  "title": {"text": "(a) <Dₘ> (mm)", "anchor": "start", "frame": "group", "dx": -51, "dy": 19, "offset": 0, "baseline": "alphabetic"},
  "layer": [
   {"data": {"values": [{"v": 0.5}, {"v": 3}]}, "mark": {"type": "line"},
    "encoding": {"x": {"field": "v", "type": "quantitative", "scale": {"domain": [0.5, 3], "nice": false, "zero": false}, "axis": {"orient": "top", "labels": false, "title": null, "values": [1, 2, 3]}},
                 "y": {"field": "v", "type": "quantitative", "scale": {"domain": [0.5, 3], "nice": false, "zero": false}, "axis": {"orient": "right", "labels": false, "title": null, "values": [1, 2, 3]}}}},
   {"data": {"name": "a"}, "mark": {"type": "circle"},
    "encoding": {"x": {"field": "x", "type": "quantitative", "scale": {"domain": [0.5, 3], "nice": false, "zero": false}, "axis": {"values": [1, 2, 3], "title": null}},
                 "y": {"field": "y", "type": "quantitative", "scale": {"domain": [0.5, 3], "nice": false, "zero": false}, "axis": {"values": [1, 2, 3], "title": "Estimations"}},
                 "color": {"field": "s", "type": "nominal", "scale": {"domain": ["P", "E", "D"], "range": ["#000000", "#ff0000", "#00ff00"]},
                           "legend": {"orient": "none", "legendX": 158, "legendY": 60, "title": null, "labelFont": "Liberation Serif", "labelFontSize": 25, "labelColor": "#000000", "labelOffset": 25, "symbolType": "circle", "symbolSize": 16, "symbolStrokeWidth": 0, "rowPadding": 3}}}}
  ],
  "resolve": {"axis": {"x": "independent", "y": "independent"}}},
 {"width": 246, "height": 144,
  "title": {"text": "(b) <W> (g/m³)", "anchor": "start", "frame": "group", "dx": -48, "dy": 33, "offset": 0, "baseline": "alphabetic"},
  "layer": [
   {"data": {"values": [{"v": 0}, {"v": 1.5}]}, "mark": {"type": "line"},
    "encoding": {"x": {"field": "v", "type": "quantitative", "scale": {"domain": [0, 1.5], "nice": false}, "axis": {"orient": "top", "labels": false, "title": null, "values": [0, 0.5, 1, 1.5]}},
                 "y": {"field": "v", "type": "quantitative", "scale": {"domain": [0, 1.5], "nice": false}, "axis": {"orient": "right", "labels": false, "title": null, "values": [0, 0.5, 1, 1.5]}}}},
   {"data": {"name": "b"}, "mark": {"type": "circle"},
    "encoding": {"x": {"field": "x", "type": "quantitative", "scale": {"domain": [0, 1.5], "nice": false}, "axis": {"values": [0, 0.5, 1, 1.5], "format": "~g", "title": null}},
                 "y": {"field": "y", "type": "quantitative", "scale": {"domain": [0, 1.5], "nice": false}, "axis": {"values": [0, 0.5, 1, 1.5], "format": "~g", "title": null}},
                 "color": {"field": "s", "type": "nominal", "scale": {"domain": ["P", "E", "D"], "range": ["#000000", "#ff0000", "#00ff00"]}, "legend": null}}}
  ],
  "resolve": {"axis": {"x": "independent", "y": "independent"}}},
 {"width": 246, "height": 144,
  "title": {"text": "(c) <R> (mm/hr)", "anchor": "start", "frame": "group", "dx": -59, "dy": 31, "offset": 0, "baseline": "alphabetic"},
  "layer": [
   {"data": {"values": [{"v": 0}, {"v": 40}]}, "mark": {"type": "line"},
    "encoding": {"x": {"field": "v", "type": "quantitative", "scale": {"domain": [0, 40], "nice": false}, "axis": {"orient": "top", "labels": false, "title": null, "values": [0, 10, 20, 30, 40]}},
                 "y": {"field": "v", "type": "quantitative", "scale": {"domain": [0, 40], "nice": false}, "axis": {"orient": "right", "labels": false, "title": null, "values": [0, 10, 20, 30, 40]}}}},
   {"data": {"name": "c"}, "mark": {"type": "circle"},
    "encoding": {"x": {"field": "x", "type": "quantitative", "scale": {"domain": [0, 40], "nice": false}, "axis": {"values": [0, 10, 20, 30, 40], "title": null}},
                 "y": {"field": "y", "type": "quantitative", "scale": {"domain": [0, 40], "nice": false}, "axis": {"values": [0, 10, 20, 30, 40], "title": null}},
                 "color": {"field": "s", "type": "nominal", "scale": {"domain": ["P", "E", "D"], "range": ["#000000", "#ff0000", "#00ff00"]}, "legend": null}}}
  ],
  "resolve": {"axis": {"x": "independent", "y": "independent"}}}
 ]},
{"title": {"text": "Add Measurement Error", "anchor": "middle", "dx": 22, "fontWeight": "bold", "fontSize": 27, "color": "#000000", "offset": -4},
 "spacing": 80, "bounds": "flush", "resolve": {"scale": {"color": "independent"}},
 "hconcat": [
 {"width": 246, "height": 144,
  "title": {"text": "(d) <Dₘ> (mm)", "anchor": "start", "frame": "group", "dx": -51, "dy": 19, "offset": 0, "baseline": "alphabetic"},
  "layer": [
   {"data": {"values": [{"v": 0.5}, {"v": 3}]}, "mark": {"type": "line"},
    "encoding": {"x": {"field": "v", "type": "quantitative", "scale": {"domain": [0.5, 3], "nice": false, "zero": false}, "axis": {"orient": "top", "labels": false, "title": null, "values": [1, 2, 3]}},
                 "y": {"field": "v", "type": "quantitative", "scale": {"domain": [0.5, 3], "nice": false, "zero": false}, "axis": {"orient": "right", "labels": false, "title": null, "values": [1, 2, 3]}}}},
   {"data": {"name": "d"}, "mark": {"type": "circle"},
    "encoding": {"x": {"field": "x", "type": "quantitative", "scale": {"domain": [0.5, 3], "nice": false, "zero": false}, "axis": {"values": [1, 2, 3], "title": null}},
                 "y": {"field": "y", "type": "quantitative", "scale": {"domain": [0.5, 3], "nice": false, "zero": false}, "axis": {"values": [1, 2, 3], "title": "Estimations"}},
                 "color": {"field": "s", "type": "nominal", "scale": {"domain": ["P", "E", "D"], "range": ["#000000", "#ff0000", "#00ff00"]}, "legend": null}}}
  ],
  "resolve": {"axis": {"x": "independent", "y": "independent"}}},
 {"width": 246, "height": 144,
  "title": {"text": "(e) <W> (g/m³)", "anchor": "start", "frame": "group", "dx": -48, "dy": 33, "offset": 0, "baseline": "alphabetic"},
  "layer": [
   {"data": {"values": [{"v": 0}, {"v": 1.5}]}, "mark": {"type": "line"},
    "encoding": {"x": {"field": "v", "type": "quantitative", "scale": {"domain": [0, 1.5], "nice": false}, "axis": {"orient": "top", "labels": false, "title": null, "values": [0, 0.5, 1, 1.5]}},
                 "y": {"field": "v", "type": "quantitative", "scale": {"domain": [0, 1.5], "nice": false}, "axis": {"orient": "right", "labels": false, "title": null, "values": [0, 0.5, 1, 1.5]}}}},
   {"data": {"name": "e"}, "mark": {"type": "circle"},
    "encoding": {"x": {"field": "x", "type": "quantitative", "scale": {"domain": [0, 1.5], "nice": false}, "axis": {"values": [0, 0.5, 1, 1.5], "format": "~g", "title": null}},
                 "y": {"field": "y", "type": "quantitative", "scale": {"domain": [0, 1.5], "nice": false}, "axis": {"values": [0, 0.5, 1, 1.5], "format": "~g", "title": null}},
                 "color": {"field": "s", "type": "nominal", "scale": {"domain": ["P", "E", "D"], "range": ["#000000", "#ff0000", "#00ff00"]}, "legend": null}}}
  ],
  "resolve": {"axis": {"x": "independent", "y": "independent"}}},
 {"width": 246, "height": 144,
  "title": {"text": "(f) <R> (mm/hr)", "anchor": "start", "frame": "group", "dx": -59, "dy": 31, "offset": 0, "baseline": "alphabetic"},
  "layer": [
   {"data": {"values": [{"v": 0}, {"v": 40}]}, "mark": {"type": "line"},
    "encoding": {"x": {"field": "v", "type": "quantitative", "scale": {"domain": [0, 40], "nice": false}, "axis": {"orient": "top", "labels": false, "title": null, "values": [0, 10, 20, 30, 40]}},
                 "y": {"field": "v", "type": "quantitative", "scale": {"domain": [0, 40], "nice": false}, "axis": {"orient": "right", "labels": false, "title": null, "values": [0, 10, 20, 30, 40]}}}},
   {"data": {"name": "f"}, "mark": {"type": "circle"},
    "encoding": {"x": {"field": "x", "type": "quantitative", "scale": {"domain": [0, 40], "nice": false}, "axis": {"values": [0, 10, 20, 30, 40], "title": null}},
                 "y": {"field": "y", "type": "quantitative", "scale": {"domain": [0, 40], "nice": false}, "axis": {"values": [0, 10, 20, 30, 40], "title": null}},
                 "color": {"field": "s", "type": "nominal", "scale": {"domain": ["P", "E", "D"], "range": ["#000000", "#ff0000", "#00ff00"]}, "legend": null}}}
  ],
  "resolve": {"axis": {"x": "independent", "y": "independent"}}}
 ]},
{"title": {"text": "Add Model Error", "anchor": "middle", "dx": 22, "fontWeight": "bold", "fontSize": 27, "color": "#000000", "offset": 0},
 "spacing": 80, "bounds": "flush", "resolve": {"scale": {"color": "independent"}},
 "hconcat": [
 {"width": 246, "height": 144,
  "title": {"text": "(g) <Dₘ> (mm)", "anchor": "start", "frame": "group", "dx": -51, "dy": 23, "offset": 0, "baseline": "alphabetic"},
  "layer": [
   {"data": {"values": [{"v": 0.5}, {"v": 3}]}, "mark": {"type": "line"},
    "encoding": {"x": {"field": "v", "type": "quantitative", "scale": {"domain": [0.5, 3], "nice": false, "zero": false}, "axis": {"orient": "top", "labels": false, "title": null, "values": [1, 2, 3]}},
                 "y": {"field": "v", "type": "quantitative", "scale": {"domain": [0.5, 3], "nice": false, "zero": false}, "axis": {"orient": "right", "labels": false, "title": null, "values": [1, 2, 3]}}}},
   {"data": {"name": "g"}, "mark": {"type": "circle"},
    "encoding": {"x": {"field": "x", "type": "quantitative", "scale": {"domain": [0.5, 3], "nice": false, "zero": false}, "axis": {"values": [1, 2, 3], "title": "Observations"}},
                 "y": {"field": "y", "type": "quantitative", "scale": {"domain": [0.5, 3], "nice": false, "zero": false}, "axis": {"values": [1, 2, 3], "title": "Estimations"}},
                 "color": {"field": "s", "type": "nominal", "scale": {"domain": ["P", "E", "D"], "range": ["#000000", "#ff0000", "#00ff00"]}, "legend": null}}}
  ],
  "resolve": {"axis": {"x": "independent", "y": "independent"}}},
 {"width": 246, "height": 144,
  "title": {"text": "(f) <W> (g/m³)", "anchor": "start", "frame": "group", "dx": -48, "dy": 33, "offset": 0, "baseline": "alphabetic"},
  "layer": [
   {"data": {"values": [{"v": 0}, {"v": 1.5}]}, "mark": {"type": "line"},
    "encoding": {"x": {"field": "v", "type": "quantitative", "scale": {"domain": [0, 1.5], "nice": false}, "axis": {"orient": "top", "labels": false, "title": null, "values": [0, 0.5, 1, 1.5]}},
                 "y": {"field": "v", "type": "quantitative", "scale": {"domain": [0, 1.5], "nice": false}, "axis": {"orient": "right", "labels": false, "title": null, "values": [0, 0.5, 1, 1.5]}}}},
   {"data": {"name": "h"}, "mark": {"type": "circle"},
    "encoding": {"x": {"field": "x", "type": "quantitative", "scale": {"domain": [0, 1.5], "nice": false}, "axis": {"values": [0, 0.5, 1, 1.5], "format": "~g", "title": "Observations"}},
                 "y": {"field": "y", "type": "quantitative", "scale": {"domain": [0, 1.5], "nice": false}, "axis": {"values": [0, 0.5, 1, 1.5], "format": "~g", "title": null}},
                 "color": {"field": "s", "type": "nominal", "scale": {"domain": ["P", "E", "D"], "range": ["#000000", "#ff0000", "#00ff00"]}, "legend": null}}}
  ],
  "resolve": {"axis": {"x": "independent", "y": "independent"}}},
 {"width": 246, "height": 144,
  "title": {"text": "(h) <R> (mm/hr)", "anchor": "start", "frame": "group", "dx": -59, "dy": 31, "offset": 0, "baseline": "alphabetic"},
  "layer": [
   {"data": {"values": [{"v": 0}, {"v": 40}]}, "mark": {"type": "line"},
    "encoding": {"x": {"field": "v", "type": "quantitative", "scale": {"domain": [0, 40], "nice": false}, "axis": {"orient": "top", "labels": false, "title": null, "values": [0, 10, 20, 30, 40]}},
                 "y": {"field": "v", "type": "quantitative", "scale": {"domain": [0, 40], "nice": false}, "axis": {"orient": "right", "labels": false, "title": null, "values": [0, 10, 20, 30, 40]}}}},
   {"data": {"name": "i"}, "mark": {"type": "circle"},
    "encoding": {"x": {"field": "x", "type": "quantitative", "scale": {"domain": [0, 40], "nice": false}, "axis": {"values": [0, 10, 20, 30, 40], "title": "Observations"}},
                 "y": {"field": "y", "type": "quantitative", "scale": {"domain": [0, 40], "nice": false}, "axis": {"values": [0, 10, 20, 30, 40], "title": null}},
                 "color": {"field": "s", "type": "nominal", "scale": {"domain": ["P", "E", "D"], "range": ["#000000", "#ff0000", "#00ff00"]}, "legend": null}}}
  ],
  "resolve": {"axis": {"x": "independent", "y": "independent"}}}
 ]}
],
"config": {
 "font": "Liberation Serif",
 "view": {"stroke": "#262626", "strokeWidth": 1.2},
 "style": {"guide-label": {"font": "Liberation Serif", "fontSize": 23}},
 "axis": {"grid": false, "domain": false, "tickColor": "#262626", "tickSize": -5, "tickWidth": 1, "labelFont": "Liberation Serif", "labelFontSize": 23, "labelColor": "#262626", "labelFlush": false, "labelOverlap": false, "labelPadding": 12, "titleFont": "Liberation Serif", "titleFontSize": 26, "titleFontWeight": "normal", "titleColor": "#262626", "titlePadding": 8},
 "axisX": {"labelPadding": 18, "titlePadding": 4},
 "axisY": {"titlePadding": 12},
 "title": {"font": "Liberation Serif", "fontSize": 27, "fontWeight": "normal", "color": "#262626"},
 "circle": {"size": 15, "opacity": 1},
 "line": {"color": "#000000", "strokeWidth": 1}
}
}
